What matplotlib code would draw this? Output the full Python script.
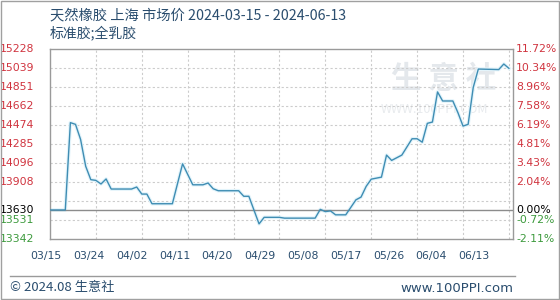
import matplotlib

matplotlib.use("Agg")
import matplotlib.pyplot as plt
import pandas as pd
from matplotlib.patches import Rectangle
from matplotlib.lines import Line2D

plt.rcParams["font.family"] = ["Noto Sans CJK SC", "DejaVu Sans"]

# price points (yuan/ton)
dates = [
    "2024-03-15", "2024-03-18", "2024-03-19", "2024-03-20", "2024-03-21", "2024-03-22",
    "2024-03-23", "2024-03-24", "2024-03-25", "2024-03-26", "2024-03-27", "2024-03-31",
    "2024-04-01", "2024-04-02", "2024-04-03", "2024-04-04", "2024-04-08", "2024-04-10",
    "2024-04-12", "2024-04-14", "2024-04-15", "2024-04-16", "2024-04-17", "2024-04-21",
    "2024-04-22", "2024-04-23", "2024-04-25", "2024-04-26", "2024-04-29", "2024-04-30",
    "2024-05-06", "2024-05-07", "2024-05-08", "2024-05-09", "2024-05-10", "2024-05-12",
    "2024-05-14", "2024-05-15", "2024-05-16", "2024-05-17", "2024-05-19", "2024-05-20",
    "2024-05-21", "2024-05-23", "2024-05-25", "2024-05-26", "2024-05-27", "2024-05-28",
    "2024-05-29", "2024-05-30", "2024-05-31", "2024-06-02", "2024-06-03", "2024-06-04",
    "2024-06-05", "2024-06-06", "2024-06-07", "2024-06-11", "2024-06-12", "2024-06-13",
]
prices = [
    13630, 13630, 14497, 14480, 14330, 14064,
    13931, 13924, 13888, 13938, 13838, 13838,
    13858, 13788, 13788, 13692, 13692, 14088,
    13880, 13880, 13898, 13841, 13821, 13821,
    13766, 13766, 13492, 13557, 13557, 13549,
    13549, 13636, 13614, 13621, 13582, 13582,
    13731, 13758, 13864, 13936, 13956, 14175,
    14122, 14175, 14337, 14337, 14303, 14490,
    14503, 14802, 14712, 14712, 14596, 14463,
    14480, 14846, 15029, 15024, 15079, 15036,
]

base_price = 13630
y_ticks = [13342, 13530.6, 13719.2, 13907.8, 14096.4, 14285, 14473.6, 14662.2, 14850.8, 15039.4, 15228]
y_labels = ["13342", "13531", "", "13908", "14096", "14285", "14474", "14662", "14851", "15039", "15228"]
pct_labels = ["-2.11%", "-0.72%", "", "2.04%", "3.43%", "4.81%", "6.19%", "7.58%", "8.96%", "10.34%", "11.72%"]
x_labels = ["03/15", "03/24", "04/02", "04/11", "04/20", "04/29", "05/08", "05/17", "05/26", "06/04", "06/13"]

title = "天然橡胶 上海 市场价 2024-03-15 - 2024-06-13"
subtitle = "标准胶;全乳胶"

RED = "#d0343f"
GREEN = "#3d9a3d"
NAVY = "#2a4d6e"
LINE = "#3f8db3"

x = pd.to_datetime(dates)
start = x[0]

fig = plt.figure(figsize=(5.6, 3.0), dpi=100)
fig.patches.append(Rectangle((0.002, 0.003), 0.996, 0.994, transform=fig.transFigure,
                             fill=False, edgecolor="#a0a0a0", linewidth=1.0))
ax = fig.add_axes([50 / 560, 61 / 300, 463 / 560, 190 / 300])

# watermark
ax.text(0.85, 0.84, "生 意 社", transform=ax.transAxes, ha="center", va="center",
        fontsize=22, color="#e4e8ec", fontweight="bold", zorder=0)
ax.text(0.83, 0.68, "WWW.100PPI.COM", transform=ax.transAxes, ha="center", va="center",
        fontsize=9, color="#e8ebee", zorder=0)

ax.plot(x, prices, color="#e3f4fb", linewidth=2.6, zorder=2, solid_joinstyle="round")
ax.plot(x, prices, color=LINE, linewidth=1.0, zorder=3)
ax.axhline(base_price, color="#8c8c8c", linewidth=1.0, zorder=2)

ax.set_ylim(y_ticks[0], y_ticks[-1])
ax.set_xlim(start, start + pd.Timedelta(days=90.8))

grid_days = [start + pd.Timedelta(days=9 * i) for i in range(1, 11)]
for g in grid_days:
    ax.axvline(g, color="#cccccc", linewidth=0.8, linestyle=(0, (2, 2)), zorder=1)
for yv in y_ticks[1:-1]:
    ax.axhline(yv, color="#cccccc", linewidth=0.8, linestyle=(0, (2, 2)), zorder=1)

ax.set_xticks([])
ax.set_yticks([])
for s in ax.spines.values():
    s.set_color("#9a9a9a")
    s.set_linewidth(1.0)

# left and right value labels
ytrans = ax.get_yaxis_transform()
for yv, lab, pct in zip(y_ticks, y_labels, pct_labels):
    if not lab:
        continue
    c = RED if yv > base_price else GREEN
    ax.text(-16 / 463, yv, lab, transform=ytrans, ha="right", va="center",
            fontsize=7.8, color=c, family="DejaVu Sans")
    ax.text(1 + 3 / 463, yv, pct, transform=ytrans, ha="left", va="center",
            fontsize=7.8, color=c, family="DejaVu Sans")
ax.text(-16 / 463, base_price, str(base_price), transform=ytrans, ha="right",
        va="center", fontsize=7.8, color="black", family="DejaVu Sans")
ax.text(1 + 3 / 463, base_price, "0.00%", transform=ytrans, ha="left",
        va="center", fontsize=7.8, color="black", family="DejaVu Sans")

# date labels (drawn slightly tighter than the grid, as in the source)
for i, lab in enumerate(x_labels):
    ax.text((-4 + 42.8 * i) / 463, -17 / 190, lab, transform=ax.transAxes, ha="center",
            va="center", fontsize=7.8, color=NAVY, family="DejaVu Sans")

fig.text(50 / 560, 1 - 15 / 300, title, ha="left", va="center", fontsize=10.3, color=NAVY)
fig.text(50 / 560, 1 - 33 / 300, subtitle, ha="left", va="center", fontsize=10, color=NAVY)

fig.lines.append(Line2D([10 / 560, 515 / 560], [1 - 276 / 300, 1 - 276 / 300],
                        transform=fig.transFigure, color="#9a9a9a", linewidth=1.0))
fig.text(10 / 560, 1 - 288 / 300, "© 2024.08 生意社", ha="left", va="center", fontsize=9.5, color=NAVY)
fig.text(513 / 560, 1 - 288 / 300, "www.100PPI.com", ha="right", va="center", fontsize=9.5,
         color=NAVY, family="DejaVu Sans")

fig.savefig("out.png", dpi=100)
